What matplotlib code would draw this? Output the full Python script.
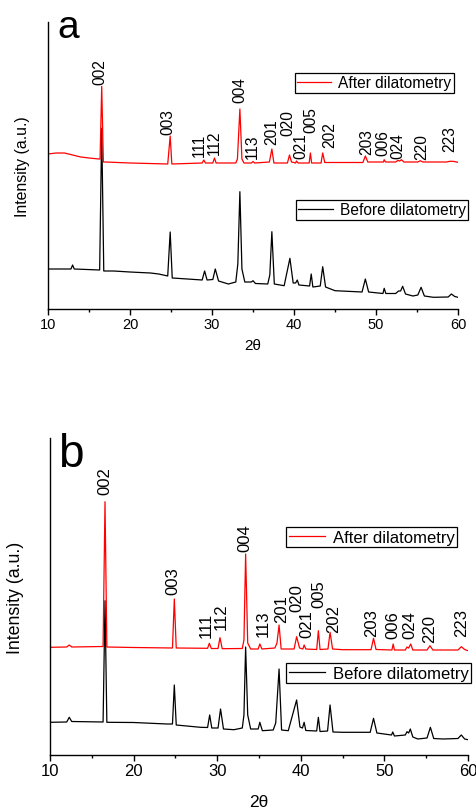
import matplotlib
matplotlib.use("Agg")
import matplotlib.pyplot as plt
from matplotlib.lines import Line2D

plt.rcParams['font.family'] = ['Liberation Sans', 'DejaVu Sans']

# ---------------- Panel a data ----------------
tt_a_after = [10, 11, 12, 13, 14, 15, 16.2, 16.35, 16.55, 16.75, 17, 20, 24.6, 24.9, 25.1,
              28.8, 29.0, 29.2, 30.1, 30.3, 30.5, 32.9, 33.1, 33.4, 33.65, 33.9, 34.8, 35.0, 35.2,
              37.0, 37.3, 37.55, 39.2, 39.45, 39.7, 40.2, 40.3, 40.5, 41.85, 42.0, 42.15,
              43.3, 43.5, 43.75, 48.4, 48.7, 49.0, 50.9, 51.0, 51.15, 52.4, 52.65, 52.9, 53.1, 53.4,
              55.1, 55.4, 55.7, 58.6, 59.0, 59.4, 60]
int_a_after = [155, 156, 156, 154, 152, 151, 150, 150, 222.7, 147, 147, 146, 145, 173, 145,
               146, 149, 146, 146, 151, 146, 146, 150, 200, 150, 146, 146, 147.5, 146,
               147, 160, 146, 146, 154, 147, 146, 148, 146, 146, 156, 146,
               146, 156, 146.5, 146.5, 153, 147, 147, 149.3, 147, 147, 148.5, 148, 149.3, 147,
               147, 148.3, 147, 147, 147.7, 147.7, 146.7]

tt_a_before = [10, 11, 12.8, 13.0, 13.2, 16.3, 16.55, 16.8, 18, 20, 22.5, 23.5, 24.6, 24.9, 25.15,
               27, 28.8, 29.1, 29.4, 30.1, 30.4, 30.8, 32, 32.9, 33.15, 33.4, 33.65, 34, 34.8, 35.0, 35.3,
               36.8, 37.05, 37.3, 37.6, 38.8, 39.5, 39.9, 40.2, 40.4, 40.6, 41.9, 42.1, 42.3,
               43.2, 43.5, 43.85, 45, 48.3, 48.7, 49.1, 50.85, 51.0, 51.2, 52.4, 52.75, 53.0, 53.25, 53.6,
               54.5, 55.1, 55.5, 55.9, 57, 58.8, 59.2, 59.6, 60]
int_a_before = [40, 40, 40, 44, 40, 39, 180.7, 38, 38, 37, 36, 35, 33, 77, 31,
                30, 29, 38, 29, 29.5, 40, 28, 25, 27, 45, 117.3, 40, 27, 27, 28.3, 25.5,
                25, 34, 77.3, 25, 23.3, 50.7, 26, 26, 29, 24, 23, 35, 22,
                23, 42.3, 22, 18.3, 17, 30, 17, 15.5, 20.7, 15.5, 15.5, 18, 18, 22.7, 15,
                13, 14, 21.7, 13, 11.7, 12, 15, 12.5, 11.7]

# ---------------- Panel b data ----------------
tt_b_after = [10, 12.0, 12.3, 12.6, 16.35, 16.58, 16.8, 20, 24.65, 24.87, 25.1,
              28.85, 29.06, 29.3, 30.1, 30.33, 30.6, 33.0, 33.2, 33.4, 33.65, 34, 34.9, 35.1, 35.35,
              36.9, 37.15, 37.4, 37.65, 39.2, 39.5, 39.85, 40.25, 40.4, 40.6, 41.9, 42.1, 42.3,
              43.25, 43.5, 43.8, 45, 48.4, 48.7, 49.0, 50.9, 51.05, 51.2, 52.5, 52.7, 52.9, 53.15, 53.4,
              55.1, 55.45, 55.8, 58.8, 59.2, 59.6, 60]
int_b_after = [107.7, 108, 110, 108, 108.5, 253.3, 108, 107.5, 107, 156, 107,
               106.7, 111.7, 106.5, 106.5, 117.3, 106.3, 106.5, 115, 201, 112, 106, 106, 111, 106,
               107, 112, 130, 106, 106, 118.3, 107, 106, 110, 106, 105.5, 124.3, 105.5,
               106, 122.7, 106, 105.3, 105.3, 116.7, 105.5, 105, 111, 105, 105, 108, 107, 111, 105,
               105, 109.3, 105, 105, 108.3, 105.5, 104.3]

tt_b_before = [10, 12.0, 12.3, 12.6, 16.35, 16.58, 16.8, 20, 24, 24.65, 24.87, 25.1,
               28, 28.85, 29.1, 29.35, 30.1, 30.4, 30.75, 32, 33.0, 33.2, 33.4, 33.65, 34, 34.9, 35.1, 35.4,
               36.7, 37.0, 37.4, 37.7, 38.5, 39.5, 39.9, 40.2, 40.4, 40.6, 41.9, 42.1, 42.3,
               43.2, 43.5, 43.85, 45, 48.3, 48.7, 49.1, 50.85, 51.0, 51.2, 52.5, 52.7, 52.9, 53.1, 53.4,
               54, 55.1, 55.5, 55.9, 57, 58.8, 59.2, 59.6, 60]
int_b_before = [32.7, 33, 37.7, 33.5, 33, 154.3, 32.7, 32.5, 31, 31, 70, 30,
                27.7, 27.5, 40, 27, 27, 46, 26, 25.3, 27, 40, 108, 40, 26, 26, 32.7, 24.3,
                25, 32, 86, 25, 24.3, 55, 28, 27, 32.7, 24.5, 24, 37.7, 23.5,
                24, 50, 23, 22.7, 22.7, 36.7, 22, 20, 23, 19, 20, 23.3, 22, 26, 18,
                16, 17, 27.7, 16.5, 16, 16.5, 20, 16, 15.3]

# ---------------- Peak labels ----------------
hkl_labels = ['002', '003', '111', '112', '004', '113', '201', '020', '021', '005', '202',
              '203', '006', '024', '220', '223']
label_x_a = [16.34, 24.63, 28.41, 30.24, 33.41, 34.88, 37.32, 39.27, 40.82, 42.07, 44.39,
             48.87, 50.82, 52.72, 55.57, 59.02]
label_y_a = [225, 175, 153, 155, 207, 151, 165, 174, 151, 177, 162, 155, 154, 151, 150, 158]
label_x_b = [16.58, 24.75, 28.74, 30.54, 33.33, 35.52, 37.71, 39.51, 40.78, 42.21, 43.89,
             48.48, 51.07, 53.06, 55.46, 59.25]
label_y_b = [261, 161, 118, 126, 204, 119, 133, 144, 118, 148, 123, 119, 117, 117, 113, 119]

W, H = 477, 812
fig = plt.figure(figsize=(W / 100, H / 100), dpi=100)


def make_panel(rect, tt_after, i_after, tt_before, i_before, lx, ly, ymax, letter,
               letter_pos, letter_fs, leg_after_pos, leg_before_pos, fs, tick_fs,
               ylabel_fs, ylabelpad, xlabelpad):
    ax = fig.add_axes(rect)
    ax.plot(tt_before, i_before, color='black', lw=0.9)
    ax.plot(tt_after, i_after, color='#ff0000', lw=0.9)
    ax.set_xlim(10, 60)
    ax.set_ylim(0, ymax)
    for s in ['top', 'right']:
        ax.spines[s].set_visible(False)
    for s in ['left', 'bottom']:
        ax.spines[s].set_linewidth(1.0)
    ax.set_yticks([])
    ax.set_xticks([10, 20, 30, 40, 50, 60])
    ax.set_xticks([15, 25, 35, 45, 55], minor=True)
    ax.tick_params(axis='x', which='major', direction='out', length=4, width=1.0,
                   labelsize=tick_fs, pad=2)
    ax.tick_params(axis='x', which='minor', direction='out', length=2.5, width=1.0)
    ax.set_xlabel('2θ', fontsize=tick_fs + 0.5, labelpad=xlabelpad)
    ax.set_ylabel('Intensity (a.u.)', fontsize=ylabel_fs, labelpad=ylabelpad)
    for t, x, y in zip(hkl_labels, lx, ly):
        ax.text(x, y, t, rotation=90, ha='center', va='bottom', fontsize=fs)
    ax.text(letter_pos[0], letter_pos[1], letter, transform=ax.transAxes,
            fontsize=letter_fs, va='baseline', ha='left')
    h_after = Line2D([], [], color='#ff0000', lw=0.9)
    h_before = Line2D([], [], color='black', lw=0.9)
    kw = dict(loc='upper left', frameon=True, fancybox=False, edgecolor='black',
              borderpad=0.15, borderaxespad=0, handlelength=2.2, handletextpad=0.45,
              fontsize=fs, framealpha=1)
    leg1 = ax.legend([h_after], ['After dilatometry'], bbox_to_anchor=leg_after_pos, **kw)
    leg1.get_frame().set_linewidth(0.9)
    ax.add_artist(leg1)
    leg2 = ax.legend([h_before], ['Before dilatometry'], bbox_to_anchor=leg_before_pos, **kw)
    leg2.get_frame().set_linewidth(0.9)
    return ax


# panel a: axes px left 48, right 458, top 23, bottom 310
make_panel([48 / W, 1 - 310 / H, 410 / W, 287 / H],
           tt_a_after, int_a_after, tt_a_before, int_a_before,
           label_x_a, label_y_a, 287, 'a', (0.024, 0.948), 28,
           (0.602, 0.822), (0.605, 0.380), 11.2, 10.5, 11.4, 13, 5)

# panel b: axes px left 50, right 468, top 439, bottom 756
make_panel([50 / W, 1 - 756 / H, 418 / W, 317 / H],
           tt_b_after, int_b_after, tt_b_before, int_b_before,
           label_x_b, label_y_b, 317, 'b', (0.019, 0.912), 33,
           (0.565, 0.719), (0.565, 0.290), 12, 12, 12.8, 19, 11)

fig.savefig('out.png', dpi=100)
